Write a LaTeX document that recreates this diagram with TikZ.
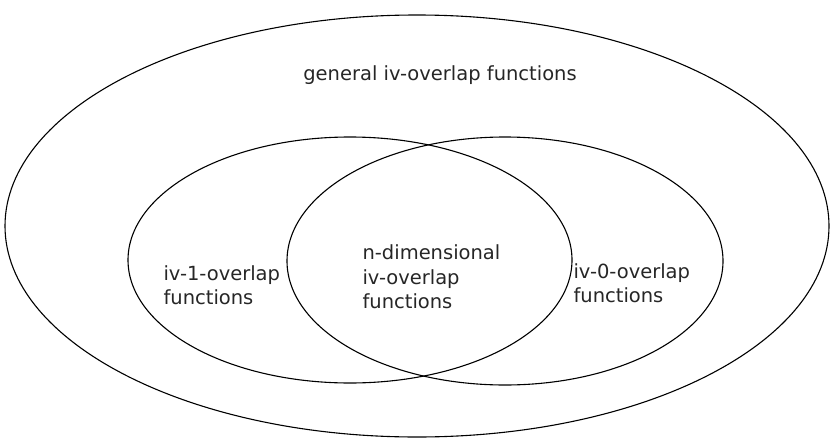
\documentclass[tikz,border=0pt]{standalone}
\usepackage{fontspec}
\setmainfont{DejaVu Sans}
\usepackage{tikz}
\usetikzlibrary{positioning}

\begin{document}
\begin{tikzpicture}[x=1pt, y=-1pt, line width=1.1pt,
    setlabel/.style={align=left, inner sep=0pt, font=\fontsize{19.5}{24.5}\selectfont, text=black!85}]
        \useasboundingbox (0,0) rectangle (832,439);
        % Mengen
        \draw (417,226) ellipse [x radius=412, y radius=211];
        \draw (350,260) ellipse [x radius=222, y radius=123];
        \draw (505,261) ellipse [x radius=218, y radius=124];
        % Beschriftungen
        \node[setlabel] (general) at (440,75) {general iv-overlap functions};
        \node[setlabel, anchor=west] (one) at (163,285) {iv-1-overlap\\functions};
        \node[setlabel, anchor=west] (ndim) at (362,277) {n-dimensional\\iv-overlap\\functions};
        \node[setlabel, anchor=west] (zero) at (573,283) {iv-0-overlap\\functions};
      \end{tikzpicture}
\end{document}
